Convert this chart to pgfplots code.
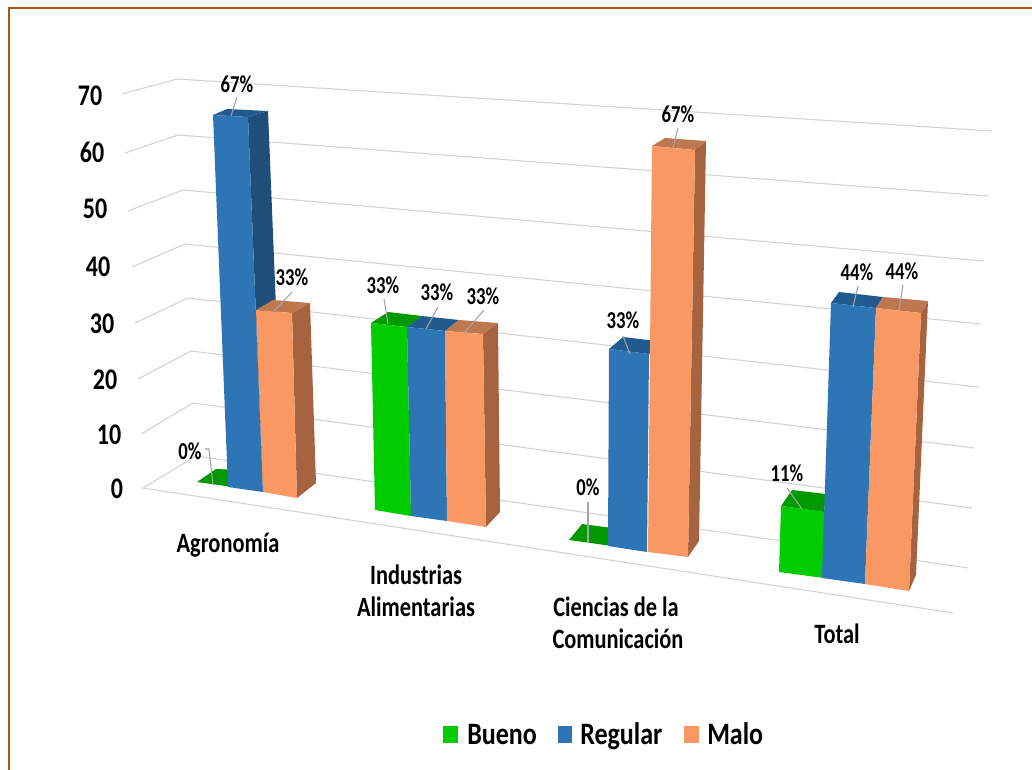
\documentclass[border=0pt]{standalone}
\usepackage{fontspec}
\setmainfont{Carlito}
\usepackage{pgfplots}
\pgfplotsset{compat=1.18}

\definecolor{gfront}{RGB}{0,204,0}
\definecolor{gtop}{RGB}{0,153,0}
\definecolor{bfront}{RGB}{46,117,182}
\definecolor{bside}{RGB}{31,78,121}
\definecolor{btop}{RGB}{33,90,143}
\definecolor{ofront}{RGB}{250,152,100}
\definecolor{oside}{RGB}{165,100,63}
\definecolor{otop}{RGB}{190,120,80}
\definecolor{frame}{RGB}{170,85,25}
\definecolor{grid3d}{RGB}{210,210,210}
\definecolor{leader}{RGB}{165,165,165}

% the axis runs in the reference's pixels, y downwards
\newcommand{\poly}[2]{\addplot[fill=#1,draw=none,forget plot] coordinates {#2} --cycle;}
\newcommand{\seg}[2]{\addplot[#1,line width=0.8pt,forget plot] coordinates {#2};}
\newcommand{\lab}[4]{\node[font=\bfseries\fontsize{#1}{#1}\selectfont,inner sep=0pt,yscale=#2] at (axis cs:#3) {#4};}
\newcommand{\legtext}[2]{\node[anchor=base west,font=\bfseries\fontsize{19.5}{19.5}\selectfont,inner sep=0pt,yscale=1.2] at (axis cs:#1) {#2};}

\begin{document}
\begin{tikzpicture}
\begin{axis}[
    scale only axis,
    width=774pt,
    height=576.75pt,
    xmin=0, xmax=1032,
    ymin=0, ymax=769,
    y dir=reverse,
    axis lines=none,
]
\poly{white}{(0,0) (1032,0) (1032,769) (0,769)}
\addplot[frame,line width=1.6pt,forget plot] coordinates {(9,780) (9,8) (1040,8)};

% walls and floor
\seg{grid3d}{(143,488) (196,456) (968,568)}
\seg{grid3d}{(141,434) (193,403) (972,508)}
\seg{grid3d}{(138,379) (191,351) (974,448)}
\seg{grid3d}{(135,323) (188,298) (978,387)}
\seg{grid3d}{(132,267) (185,244) (981,324)}
\seg{grid3d}{(128,211) (183,190) (984,261)}
\seg{grid3d}{(125,153) (178,135) (988,196)}
\seg{grid3d}{(122,94) (177,79) (992,131)}
\seg{grid3d}{(143,488) (953,613)}

% Agronomia: Bueno 0, Regular 67, Malo 33
\poly{gtop}{(197,482) (216,469) (240,470) (240,488)}
\poly{bside}{(248,117) (268,111) (283,480) (263,492)}
\poly{btop}{(213,115) (227,109) (268,111) (248,117)}
\poly{bfront}{(213,115) (248,117) (263,492) (228,487)}
\poly{oside}{(292,313) (310,303) (316,483) (297,498)}
\poly{otop}{(256,310) (273,300) (310,303) (292,313)}
\poly{ofront}{(256,310) (292,313) (297,498) (263,492)}

% Industrias Alimentarias: 33, 33, 33
\poly{gtop}{(371,323) (388,312) (422,316) (407,327)}
\poly{gfront}{(371,323) (407,327) (411,516) (375,510)}
\poly{btop}{(407,327) (422,316) (459,320) (445,331)}
\poly{bfront}{(407,327) (445,331) (447,521) (411,516)}
\poly{oside}{(483,334) (498,323) (500,512) (486,527)}
\poly{otop}{(445,331) (459,320) (498,323) (483,334)}
\poly{ofront}{(445,331) (483,334) (486,527) (447,521)}

% Ciencias de la Comunicacion: 0, 33, 67
\poly{gtop}{(569,540) (582,524) (612,528) (612,546)}
\poly{btop}{(609,349) (623,337) (665,342) (649,354)}
\poly{bfront}{(609,349) (649,354) (647,552) (608,546)}
\poly{oside}{(695,150) (706,141) (699,541) (688,557)}
\poly{otop}{(652,146) (665,138) (706,141) (695,150)}
\poly{ofront}{(652,146) (695,150) (688,557) (648,552)}

% Total: 11, 44, 44
\poly{gtop}{(781,506) (792,490) (826,494) (824,512)}
\poly{gfront}{(781,506) (826,512) (824,578) (779,572)}
\poly{btop}{(831,303) (839,292) (883,297) (876,308)}
\poly{bfront}{(831,303) (876,308) (865,584) (822,578)}
\poly{oside}{(921,313) (928,301) (916,575) (909,591)}
\poly{otop}{(876,308) (883,297) (928,301) (921,313)}
\poly{ofront}{(876,308) (921,313) (909,591) (865,584)}

% leaders
\seg{leader}{(237,97) (231,116)}
\seg{leader}{(292,292) (274,311)}
\seg{leader}{(205,449) (209,449) (213,485)}
\seg{leader}{(384,299) (388,324)}
\seg{leader}{(438,307) (426,329)}
\seg{leader}{(484,310) (464,333)}
\seg{leader}{(588,502) (588,543)}
\seg{leader}{(623,336) (630,354)}
\seg{leader}{(678,128) (673,148)}
\seg{leader}{(787,488) (802,509)}
\seg{leader}{(858,286) (853,307)}
\seg{leader}{(903,285) (899,310)}

% legend keys
\poly{gfront}{(443,726) (458,726) (458,743) (443,743)}
\poly{bfront}{(558,726) (572,726) (572,743) (558,743)}
\poly{ofront}{(684,726) (699,726) (699,743) (684,743)}

% value labels
\lab{14}{1.3}{237,84}{67\%}
\lab{14}{1.3}{292,277}{33\%}
\lab{14}{1.3}{190,451}{0\%}
\lab{14}{1.3}{383,285}{33\%}
\lab{14}{1.3}{437,292}{33\%}
\lab{14}{1.3}{483,296}{33\%}
\lab{14}{1.3}{588,487}{0\%}
\lab{14}{1.3}{623,320}{33\%}
\lab{14}{1.3}{678,114}{67\%}
\lab{14}{1.3}{787,473}{11\%}
\lab{14}{1.3}{857,272}{44\%}
\lab{14}{1.3}{902,271}{44\%}

% vertical scale
\lab{18}{1.25}{90,96}{70}
\lab{18}{1.25}{92,152}{60}
\lab{18}{1.25}{95,209}{50}
\lab{18}{1.25}{98,267}{40}
\lab{18}{1.25}{102,324}{30}
\lab{18}{1.25}{105,380}{20}
\lab{18}{1.25}{109,435}{10}
\lab{18}{1.25}{117,489}{0}

% categories
\lab{16.8}{1.25}{228,545}{Agronomía}
\lab{16.8}{1.25}{416,575}{Industrias}
\lab{16.8}{1.25}{416,607}{Alimentarias}
\lab{16.8}{1.25}{616,607}{Ciencias de la}
\lab{16.8}{1.25}{618,639}{Comunicación}
\lab{16.8}{1.25}{837,634}{Total}

% legend text
\legtext{467,744}{Bueno}
\legtext{580,744}{Regular}
\legtext{707,744}{Malo}
\end{axis}
\end{tikzpicture}
\end{document}
